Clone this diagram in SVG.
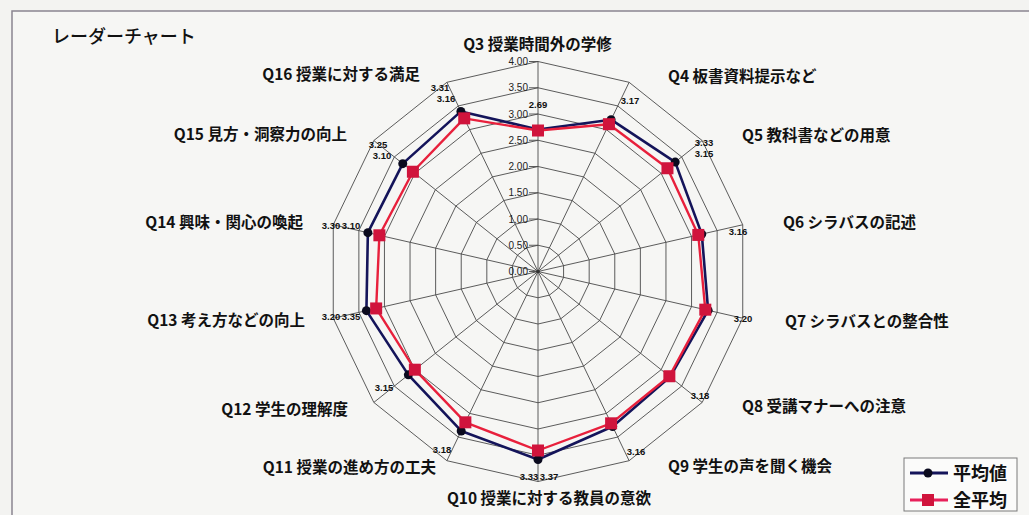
<svg xmlns="http://www.w3.org/2000/svg" width="1029" height="515" viewBox="0 0 1029 515">
<style>
.ring{fill:none;stroke:#4a4a4a;stroke-width:0.9}
.spoke{stroke:#4a4a4a;stroke-width:0.9}
.cat{font-family:"Noto Sans CJK JP","Noto Sans",sans-serif;font-size:15.5px;font-weight:bold;fill:#111}
.tick{font-family:"Liberation Sans",Arial,sans-serif;font-size:10px;fill:#222;text-anchor:end}
.dl{font-family:"Liberation Sans",Arial,sans-serif;font-size:9.5px;font-weight:bold;fill:#111;text-anchor:middle}
.mean{fill:none;stroke:#14145a;stroke-width:2.6;stroke-linejoin:round}
.all{fill:none;stroke:#e8203c;stroke-width:2.4;stroke-linejoin:round}
.mk1{fill:#0a0a1e}
.mk2{fill:#d0143c}
.leg{font-family:"Noto Sans CJK JP","Noto Sans",sans-serif;font-size:18px;font-weight:bold;fill:#111}
</style>
<rect x="0" y="0" width="1029" height="515" fill="#f3f3f1"/>
<rect x="12" y="11" width="1030" height="520" fill="#f6f6f4" stroke="#8a8590" stroke-width="1.5"/>

<g id="title"><text x="52" y="43" font-family="'Noto Sans CJK JP',sans-serif" font-size="18" font-weight="500" fill="#111">レーダーチャート</text></g>

<g id="grid">
<polygon class="ring" points="538,61.5 629.11,82.3 702.18,140.57 742.74,224.77 742.74,318.23 702.18,402.43 629.11,460.7 538,481.5 446.89,460.7 373.82,402.43 333.26,318.23 333.26,224.77 373.82,140.57 446.89,82.3"/>
<polygon class="ring" points="538,87.75 617.72,105.95 681.66,156.93 717.14,230.61 717.14,312.39 681.66,386.07 617.72,437.05 538,455.25 458.28,437.05 394.34,386.07 358.86,312.39 358.86,230.61 394.34,156.93 458.28,105.95"/>
<polygon class="ring" points="538,114 606.34,129.6 661.14,173.3 691.55,236.45 691.55,306.55 661.14,369.7 606.34,413.4 538,429 469.66,413.4 414.86,369.7 384.45,306.55 384.45,236.45 414.86,173.3 469.66,129.6"/>
<polygon class="ring" points="538,140.25 594.95,153.25 640.62,189.67 665.96,242.29 665.96,300.71 640.62,353.33 594.95,389.75 538,402.75 481.05,389.75 435.38,353.33 410.04,300.71 410.04,242.29 435.38,189.67 481.05,153.25"/>
<polygon class="ring" points="538,166.5 583.56,176.9 620.09,206.03 640.37,248.14 640.37,294.86 620.09,336.97 583.56,366.1 538,376.5 492.44,366.1 455.91,336.97 435.63,294.86 435.63,248.14 455.91,206.03 492.44,176.9"/>
<polygon class="ring" points="538,192.75 572.17,200.55 599.57,222.4 614.78,253.98 614.78,289.02 599.57,320.6 572.17,342.45 538,350.25 503.83,342.45 476.43,320.6 461.22,289.02 461.22,253.98 476.43,222.4 503.83,200.55"/>
<polygon class="ring" points="538,219 560.78,224.2 579.05,238.77 589.18,259.82 589.18,283.18 579.05,304.23 560.78,318.8 538,324 515.22,318.8 496.95,304.23 486.82,283.18 486.82,259.82 496.95,238.77 515.22,224.2"/>
<polygon class="ring" points="538,245.25 549.39,247.85 558.52,255.13 563.59,265.66 563.59,277.34 558.52,287.87 549.39,295.15 538,297.75 526.61,295.15 517.48,287.87 512.41,277.34 512.41,265.66 517.48,255.13 526.61,247.85"/>
<g class="spoke">
<line x1="538" y1="271.5" x2="538" y2="61.5"/>
<line x1="538" y1="271.5" x2="629.11" y2="82.3"/>
<line x1="538" y1="271.5" x2="702.18" y2="140.57"/>
<line x1="538" y1="271.5" x2="742.74" y2="224.77"/>
<line x1="538" y1="271.5" x2="742.74" y2="318.23"/>
<line x1="538" y1="271.5" x2="702.18" y2="402.43"/>
<line x1="538" y1="271.5" x2="629.11" y2="460.7"/>
<line x1="538" y1="271.5" x2="538" y2="481.5"/>
<line x1="538" y1="271.5" x2="446.89" y2="460.7"/>
<line x1="538" y1="271.5" x2="373.82" y2="402.43"/>
<line x1="538" y1="271.5" x2="333.26" y2="318.23"/>
<line x1="538" y1="271.5" x2="333.26" y2="224.77"/>
<line x1="538" y1="271.5" x2="373.82" y2="140.57"/>
<line x1="538" y1="271.5" x2="446.89" y2="82.3"/>
</g>
<g class="spoke">
<line x1="529" y1="271.5" x2="538" y2="271.5"/>
<line x1="529" y1="245.25" x2="538" y2="245.25"/>
<line x1="529" y1="219" x2="538" y2="219"/>
<line x1="529" y1="192.75" x2="538" y2="192.75"/>
<line x1="529" y1="166.5" x2="538" y2="166.5"/>
<line x1="529" y1="140.25" x2="538" y2="140.25"/>
<line x1="529" y1="114" x2="538" y2="114"/>
<line x1="529" y1="87.75" x2="538" y2="87.75"/>
<line x1="529" y1="61.5" x2="538" y2="61.5"/>
</g>
<circle cx="538" cy="271.5" r="1.8" fill="#333"/>
</g>

<g id="ticks">
<text class="tick" x="528" y="275">0.00</text>
<text class="tick" x="528" y="248.75">0.50</text>
<text class="tick" x="528" y="222.5">1.00</text>
<text class="tick" x="528" y="196.25">1.50</text>
<text class="tick" x="528" y="170">2.00</text>
<text class="tick" x="528" y="143.75">2.50</text>
<text class="tick" x="528" y="117.5">3.00</text>
<text class="tick" x="528" y="91.25">3.50</text>
<text class="tick" x="528" y="65">4.00</text>
</g>

<g id="series-mean">
<polygon class="mean" points="538,129.5 611.11,119.69 675.21,162.08 701.79,234.12 708.13,310.33 670.13,376.87 612.63,426.47 538,459.5 461.2,430.97 408.37,374.87 366.41,310.66 367.87,232.67 402.74,163.64 460.9,111.4"/>
<g class="mk1">
<circle cx="538" cy="129.5" r="4.5"/><circle cx="611.11" cy="119.69" r="4.5"/><circle cx="675.21" cy="162.08" r="4.5"/><circle cx="701.79" cy="234.12" r="4.5"/><circle cx="708.13" cy="310.33" r="4.5"/><circle cx="670.13" cy="376.87" r="4.5"/><circle cx="612.63" cy="426.47" r="4.5"/><circle cx="538" cy="459.5" r="4.5"/><circle cx="461.2" cy="430.97" r="4.5"/><circle cx="408.37" cy="374.87" r="4.5"/><circle cx="366.41" cy="310.66" r="4.5"/><circle cx="367.87" cy="232.67" r="4.5"/><circle cx="402.74" cy="163.64" r="4.5"/><circle cx="460.9" cy="111.4" r="4.5"/>
</g>
</g>

<g id="series-all">
<polygon class="all" points="538,130.5 608.94,124.19 667.47,168.25 698.28,234.92 705.3,309.68 669.35,376.25 611.11,423.31 538,450.5 465.37,422.32 414.86,369.7 376.16,308.44 379.38,235.3 412.91,171.74 464.24,118.34"/>
<g class="mk2">
<rect x="532" y="124.5" width="12" height="12"/><rect x="602.94" y="118.19" width="12" height="12"/><rect x="661.47" y="162.25" width="12" height="12"/><rect x="692.28" y="228.92" width="12" height="12"/><rect x="699.3" y="303.68" width="12" height="12"/><rect x="663.35" y="370.25" width="12" height="12"/><rect x="605.11" y="417.31" width="12" height="12"/><rect x="532" y="444.5" width="12" height="12"/><rect x="459.37" y="416.32" width="12" height="12"/><rect x="408.86" y="363.7" width="12" height="12"/><rect x="370.16" y="302.44" width="12" height="12"/><rect x="373.38" y="229.3" width="12" height="12"/><rect x="406.91" y="165.74" width="12" height="12"/><rect x="458.24" y="112.34" width="12" height="12"/>
</g>
</g>

<g id="data-labels">
<text class="dl" x="538" y="108">2.69</text>
<text class="dl" x="630" y="104">3.17</text>
<text class="dl" x="704" y="146">3.33</text>
<text class="dl" x="704" y="157">3.15</text>
<text class="dl" x="738" y="235">3.16</text>
<text class="dl" x="743" y="322">3.20</text>
<text class="dl" x="700" y="399">3.18</text>
<text class="dl" x="636" y="455">3.16</text>
<text class="dl" x="529" y="480">3.33</text>
<text class="dl" x="549" y="480">3.37</text>
<text class="dl" x="442" y="453">3.18</text>
<text class="dl" x="384" y="391">3.15</text>
<text class="dl" x="331" y="320">3.20</text>
<text class="dl" x="351" y="320">3.35</text>
<text class="dl" x="331" y="229">3.30</text>
<text class="dl" x="351" y="229">3.10</text>
<text class="dl" x="378" y="148">3.25</text>
<text class="dl" x="382" y="159">3.10</text>
<text class="dl" x="440" y="91">3.31</text>
<text class="dl" x="446" y="102">3.16</text>
</g>

<g id="categories">
<text class="cat" x="537.5" y="50" text-anchor="middle">Q3 授業時間外の学修</text>
<text class="cat" x="668" y="82">Q4 板書資料提示など</text>
<text class="cat" x="742" y="141">Q5 教科書などの用意</text>
<text class="cat" x="783" y="228">Q6 シラバスの記述</text>
<text class="cat" x="785" y="327">Q7 シラバスとの整合性</text>
<text class="cat" x="742" y="412">Q8 受講マナーへの注意</text>
<text class="cat" x="668" y="472">Q9 学生の声を聞く機会</text>
<text class="cat" x="549" y="504" text-anchor="middle">Q10 授業に対する教員の意欲</text>
<text class="cat" x="436" y="473" text-anchor="end">Q11 授業の進め方の工夫</text>
<text class="cat" x="348" y="415" text-anchor="end">Q12 学生の理解度</text>
<text class="cat" x="305" y="326" text-anchor="end">Q13 考え方などの向上</text>
<text class="cat" x="303" y="228" text-anchor="end">Q14 興味・関心の喚起</text>
<text class="cat" x="347" y="140" text-anchor="end">Q15 見方・洞察力の向上</text>
<text class="cat" x="420" y="80" text-anchor="end">Q16 授業に対する満足</text>
</g>

<g id="legend">
<rect x="904" y="458" width="113" height="53" fill="#fbfbfa" stroke="#7a7a7a" stroke-width="1"/>
<line x1="910" y1="473" x2="948" y2="473" stroke="#14145a" stroke-width="3"/>
<circle cx="928" cy="473" r="4.5" fill="#0a0a1e"/>
<text class="leg" x="953" y="480">平均値</text>
<line x1="910" y1="500" x2="948" y2="500" stroke="#e8205a" stroke-width="3"/>
<rect x="922" y="494" width="12" height="12" fill="#d0143c"/>
<text class="leg" x="953" y="507">全平均</text>
</g>
</svg>
